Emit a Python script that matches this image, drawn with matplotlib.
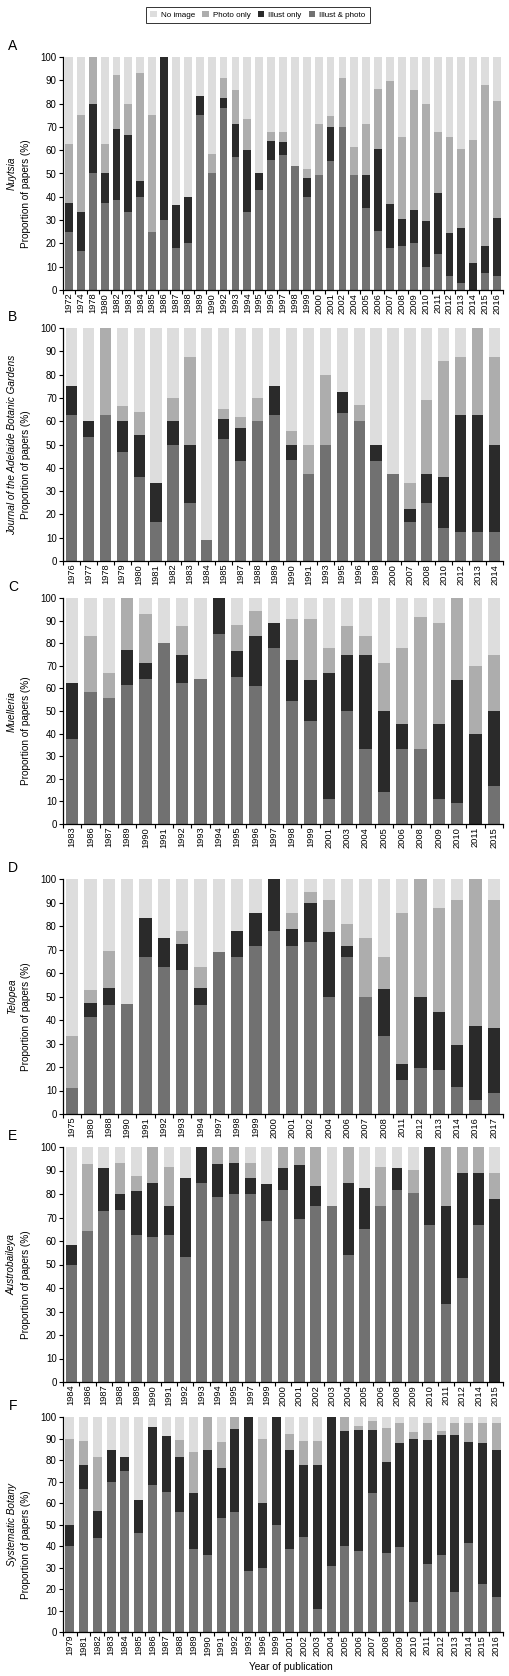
import numpy as np
import matplotlib
matplotlib.use('Agg')
import matplotlib.pyplot as plt
from matplotlib.patches import Patch

plt.rcParams['font.family'] = ['Liberation Sans', 'DejaVu Sans']

# cumulative levels: top of "Illust & photo",
# top of "Illust only", top of "Photo only" (rest up to 100 = No image)
years_a = [1972, 1974, 1978, 1980, 1982, 1983, 1984, 1985, 1986, 1987, 1988, 1989, 1990,
           1992, 1993, 1994, 1995, 1996, 1997, 1998, 1999, 2000, 2001, 2002, 2004, 2005,
           2006, 2007, 2008, 2009, 2010, 2011, 2012, 2013, 2014, 2015, 2016]
both_a = [25, 16.7, 50, 37.5, 38.5, 33.3, 40, 25, 30, 18.2, 20, 75, 50, 78, 57.1, 33.3, 42.9,
          56, 58, 53.3, 40, 49.4, 55.2, 69.8, 49.4, 35.4, 25.5, 17.9, 19, 20, 9.7, 15.3, 6,
          2.9, 0, 7.2, 6]
illus_a = [37.5, 33.3, 80, 50, 69.2, 66.7, 46.7, 25, 100, 36.4, 40, 83.3, 50, 82.4, 71.4, 60,
           50, 64, 63.5, 53.3, 48, 49.4, 69.8, 69.8, 49.4, 49.4, 60.5, 37, 30.5, 34.4, 29.4,
           41.8, 24.6, 26.5, 11.5, 19, 31]
photo_a = [62.5, 75, 100, 62.5, 92.3, 80, 93.3, 75, 100, 36.4, 40, 83.3, 58.3, 91, 85.7, 73.3,
           50, 68, 68, 53.3, 52, 71.3, 74.5, 91, 61.2, 71.3, 86.4, 89.8, 65.5, 86, 80, 68,
           65.5, 60.5, 64.2, 88, 81.2]

years_b = [1976, 1977, 1978, 1979, 1980, 1981, 1982, 1983, 1984, 1985, 1987, 1988, 1989, 1990,
           1991, 1993, 1995, 1996, 1998, 2000, 2007, 2008, 2010, 2012, 2013, 2014]
both_b = [62.5, 53.3, 62.5, 46.7, 36, 16.7, 50, 25, 9.1, 52.2, 42.9, 60, 62.5, 43.5, 37.5, 50,
          63.6, 60, 43, 37.5, 16.7, 25, 14, 12.5, 12.5, 12.5]
illus_b = [75, 60, 62.5, 60, 54, 33.3, 60, 50, 9.1, 60.9, 57.1, 60, 75, 50, 37.5, 50, 72.7, 60,
           50, 37.5, 22.2, 37.5, 36, 62.5, 62.5, 50]
photo_b = [75, 60, 100, 66.7, 64, 33.3, 70, 87.5, 9.1, 65.2, 61.9, 70, 75, 56, 50, 80, 72.7,
           67, 50, 37.5, 33.3, 69, 86, 87.5, 100, 87.5]

years_c = [1983, 1986, 1987, 1989, 1990, 1991, 1992, 1993, 1994, 1995, 1996, 1997, 1998, 1999,
           2001, 2003, 2004, 2005, 2006, 2008, 2009, 2010, 2011, 2015]
both_c = [37.5, 58.3, 55.6, 61.5, 64.3, 80, 62.5, 64.3, 84.2, 65, 60.9, 77.8, 54.5, 45.5, 11.1,
          50, 33.3, 14.3, 33.3, 33.3, 11.1, 9.1, 0, 16.7]
illus_c = [62.5, 58.3, 55.6, 76.9, 71.4, 80, 75, 64.3, 100, 76.5, 83, 88.9, 72.7, 63.6, 66.7,
           75, 75, 50, 44.4, 33.3, 44.4, 63.6, 40, 50]
photo_c = [62.5, 83.3, 66.7, 100, 92.9, 80, 87.5, 64.3, 100, 88.2, 94.4, 88.9, 90.9, 90.9,
           77.8, 87.5, 83.3, 71.4, 77.8, 91.7, 88.9, 100, 70, 75]

years_d = [1975, 1980, 1988, 1990, 1991, 1992, 1993, 1994, 1997, 1998, 1999, 2000, 2001, 2002,
           2004, 2006, 2007, 2008, 2011, 2012, 2013, 2014, 2016, 2017]
both_d = [11.1, 41.2, 46.2, 46.7, 66.7, 62.5, 61.1, 46.2, 69, 66.7, 71.4, 77.8, 71.4, 73.3, 50,
          66.7, 50, 33.3, 14.3, 19.7, 18.7, 11.6, 6, 8.8]
illus_d = [11.1, 47.1, 53.8, 46.7, 83.3, 75, 72.2, 53.8, 69, 77.8, 85.7, 100, 78.6, 90, 77.3,
           71.4, 50, 53.3, 21.4, 50, 43.5, 29.4, 37.6, 36.5]
photo_d = [33.3, 52.9, 69.2, 46.7, 83.3, 75, 77.8, 62.5, 69, 77.8, 85.7, 100, 85.7, 94.6, 90.9,
           81, 75, 66.7, 85.7, 100, 87.5, 91.2, 100, 91]

years_e = [1984, 1986, 1987, 1988, 1989, 1990, 1991, 1992, 1993, 1994, 1995, 1997, 1999, 2000,
           2001, 2002, 2003, 2004, 2005, 2006, 2008, 2009, 2010, 2011, 2012, 2014, 2015]
both_e = [50, 64.3, 72.7, 73.3, 62.5, 61.5, 62.5, 53.3, 84.6, 78.6, 80, 80, 68.4, 81.8, 69.2,
          75, 75, 54.2, 65.2, 75, 81.8, 80.4, 66.7, 33.3, 44.4, 66.7, 0]
illus_e = [58.3, 64.3, 90.9, 80, 81.3, 84.6, 75, 86.7, 100, 92.9, 93.3, 86.7, 84.2, 90.9, 92.3,
           83.3, 75, 84.6, 82.6, 75, 90.9, 80.4, 100, 75, 88.9, 88.9, 77.8]
photo_e = [58.3, 92.9, 90.9, 93.3, 87.5, 100, 91.7, 86.7, 100, 100, 100, 93.3, 84.2, 100, 100,
           100, 75, 100, 82.6, 91.7, 90.9, 90.2, 100, 100, 100, 100, 88.9]

years_f = [1979, 1981, 1982, 1983, 1984, 1985, 1986, 1987, 1988, 1989, 1990, 1991, 1992, 1993,
           1996, 1999, 2001, 2002, 2003, 2004, 2005, 2006, 2007, 2008, 2009, 2010, 2011, 2012,
           2013, 2014, 2015, 2016]
both_f = [40, 66.7, 43.8, 69.6, 75, 46.2, 68.2, 65.2, 55.6, 38.5, 35.7, 52.9, 55.6, 28.6, 30,
          50, 38.5, 44.4, 10.7, 30.8, 40, 37.5, 64.7, 36.8, 39.4, 13.8, 31.6, 35.9, 18.5, 41.2,
          22.2, 16.2]
illus_f = [50, 77.8, 56.3, 84.8, 81.3, 61.5, 95.5, 91.3, 81.5, 64.8, 84.5, 76.5, 94.4, 100, 60,
           100, 84.6, 77.8, 77.8, 100, 93.3, 93.8, 94.1, 78.9, 87.9, 89.7, 89.5, 91.5, 91.5,
           88.2, 87.9, 84.5]
photo_f = [90, 88.9, 81.3, 84.8, 81.3, 61.5, 95.5, 91.3, 89.1, 83.8, 100, 88.2, 100, 100, 90,
           100, 92.3, 88.9, 88.9, 100, 100, 96, 98, 95, 97, 93, 97, 93.4, 97, 97, 97, 97]

journals = ['Nuytsia', 'Journal of the Adelaide Botanic Gardens', 'Muelleria', 'Telopea',
            'Austrobaileya', 'Systematic Botany']
letters = ['A', 'B', 'C', 'D', 'E', 'F']
series = ['No image', 'Photo only', 'Illust only', 'Illust & photo']
colors = {'No image': '#dddddd', 'Photo only': '#adadad',
          'Illust only': '#2a2a2a', 'Illust & photo': '#717171'}

# axes placement in pixels (left, top, right, bottom) of the 510x1676 figure
W, H = 510, 1676
boxes = [(63, 57, 503, 290), (63, 328, 503, 561), (63, 598, 503, 824),
         (63, 879, 503, 1114), (63, 1147, 503, 1382), (63, 1417, 503, 1632)]

panels = [(years_a, both_a, illus_a, photo_a), (years_b, both_b, illus_b, photo_b),
          (years_c, both_c, illus_c, photo_c), (years_d, both_d, illus_d, photo_d),
          (years_e, both_e, illus_e, photo_e), (years_f, both_f, illus_f, photo_f)]

fig = plt.figure(figsize=(W / 100, H / 100), dpi=100)

for k, (years, both, illus, photo) in enumerate(panels):
    l, t, r, b = boxes[k]
    ax = fig.add_axes([l / W, 1 - b / H, (r - l) / W, (b - t) / H])
    n = len(years)
    x = np.arange(n)
    # draw cumulative levels tallest first so the stacks have no seams
    levels = [np.full(n, 100.0), np.array(photo, float), np.array(illus, float),
              np.array(both, float)]
    names = ['No image', 'Photo only', 'Illust only', 'Illust & photo']
    for lev, name in zip(levels, names):
        ax.bar(x, lev, width=0.66, color=colors[name], linewidth=0)

    ax.set_xlim(-0.5, n - 0.5)
    ax.set_ylim(0, 100)
    ax.set_yticks(range(0, 101, 10))
    ax.set_xticks(x)
    ax.set_xticklabels([str(y) for y in years], rotation=90, fontsize=6.7)
    ax.set_xticks(np.arange(n + 1) - 0.5, minor=True)
    ax.tick_params(axis='x', which='major', length=0, pad=2)
    ax.tick_params(axis='x', which='minor', length=3, width=0.8, direction='out')
    ax.tick_params(axis='y', labelsize=7, length=3, width=0.8, pad=1.5)
    for s in ['top', 'right']:
        ax.spines[s].set_visible(False)
    for s in ['left', 'bottom']:
        ax.spines[s].set_linewidth(0.9)

    yc = (t + b) / 2
    fig.text(12 / W, 1 - yc / H, journals[k], rotation=90, style='italic',
             fontsize=7.2, ha='center', va='center')
    fig.text(26 / W, 1 - (yc + 20) / H, 'Proportion of papers (%)', rotation=90,
             fontsize=7.2, ha='center', va='center')
    fig.text(13 / W, 1 - (t - 11) / H, letters[k], fontsize=10, ha='center', va='center')

fig.text(291 / W, 1 - 1667 / H, 'Year of publication', fontsize=7.4, ha='center', va='center')

handles = [Patch(facecolor=colors[s], edgecolor='none', label=s) for s in series]
leg = fig.legend(handles=handles, loc='upper center', bbox_to_anchor=(258 / W, 1 - 3 / H),
                 ncol=4, fontsize=5.8, frameon=True, fancybox=False, handlelength=0.8,
                 handleheight=0.8, handletextpad=0.5, columnspacing=0.9, borderpad=0.5)
leg.get_frame().set_edgecolor('black')
leg.get_frame().set_linewidth(0.7)

fig.savefig('out.png', dpi=100)
